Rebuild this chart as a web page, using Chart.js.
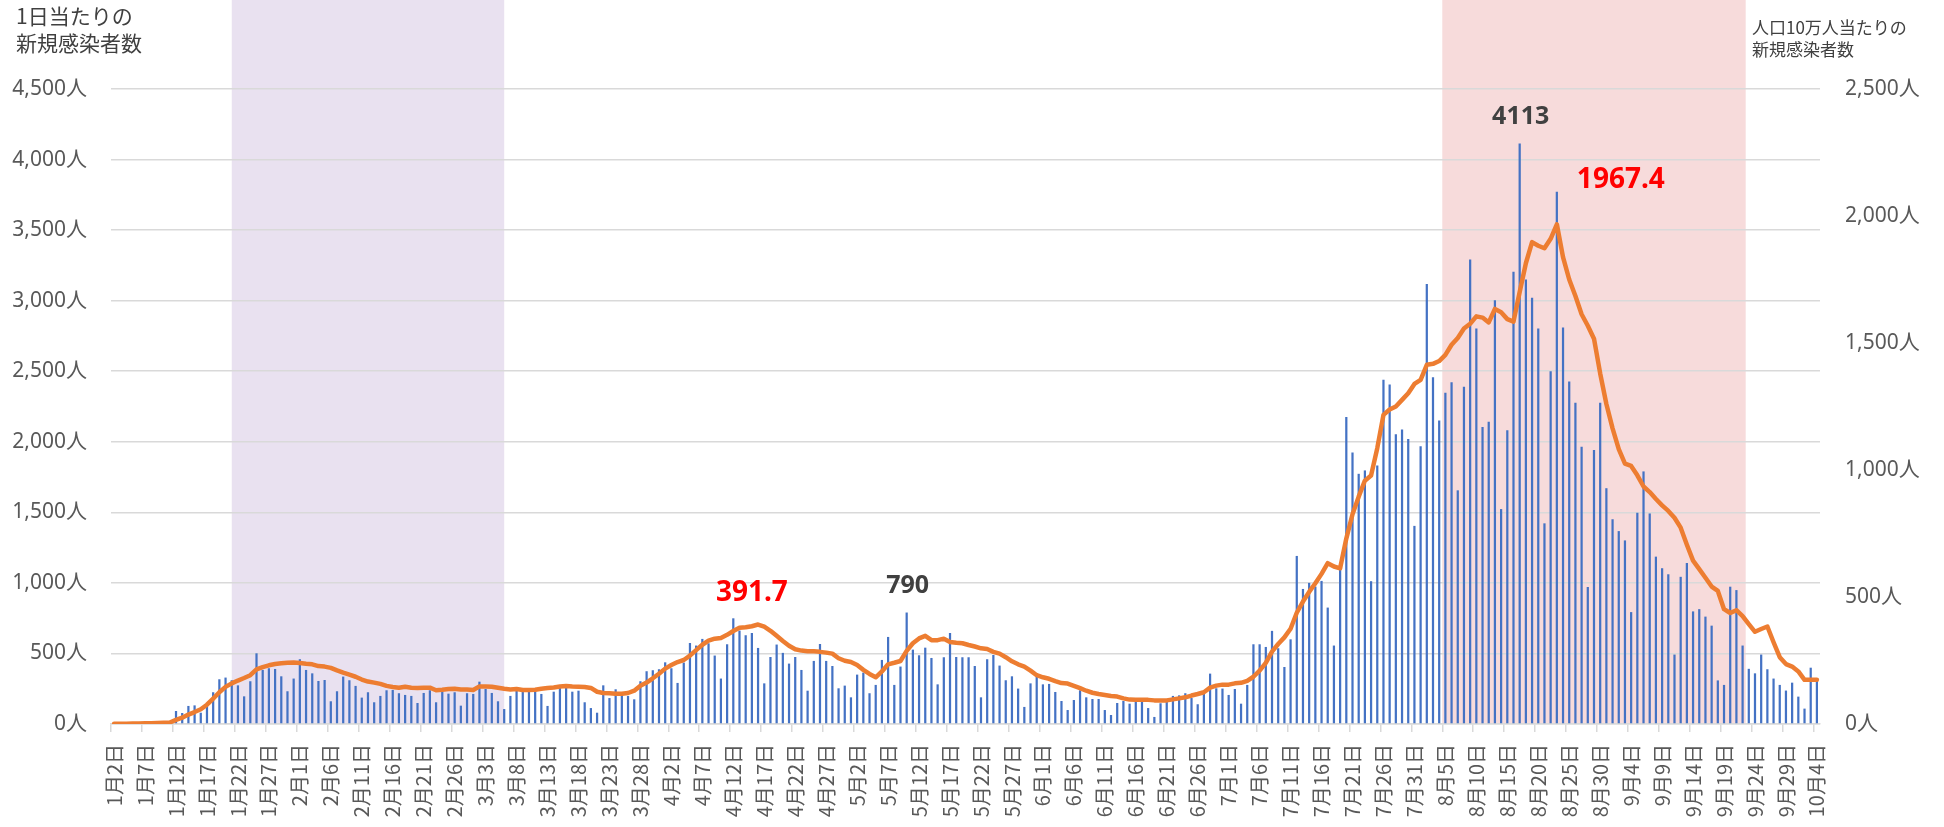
<!DOCTYPE html>
<html lang="ja">
<head>
<meta charset="utf-8">
<script src="https://cdn.jsdelivr.net/npm/chart.js@4/dist/chart.umd.min.js"></script>
<style>
  html, body { margin: 0; padding: 0; background: #ffffff; }
  #wrap { position: relative; width: 1944px; height: 827px; overflow: hidden; }
  #c { position: absolute; left: 0; top: 0; }
  .ttl { position: absolute; font-family: "Noto Sans CJK JP", "Noto Sans", sans-serif; color: #404040; white-space: nowrap; line-height: 1.3; }
  #tl { left: 16px; top: 2px; font-size: 21px; }
  #tr { left: 1752px; top: 16px; font-size: 17px; }
</style>
</head>
<body>
<div id="wrap">
  <canvas id="c" width="1944" height="827"></canvas>
  <div class="ttl" id="tl">1日当たりの<br>新規感染者数</div>
  <div class="ttl" id="tr">人口10万人当たりの<br>新規感染者数</div>
</div>
<script>
// ---- Data ----
const monthDays = [[1, 2, 31], [2, 1, 28], [3, 1, 31], [4, 1, 30], [5, 1, 31], [6, 1, 30], [7, 1, 31], [8, 1, 31], [9, 1, 30], [10, 1, 4]];
const categories = [];
for (const [m, d0, d1] of monthDays) for (let d = d0; d <= d1; d++) categories.push(m + '月' + d + '日');

const dailyCases = [
  2, 3, 2, 6, 8, 10, 12, 14, 10, 20,
  92, 78, 128, 132, 80, 149, 225, 317, 329, 310, 274, 196, 303, 501, 383, 395, 390, 338, 232, 322,
  459, 383, 359, 305, 312, 161, 232, 336, 310, 270, 187, 225, 154, 199, 239, 241, 218,
  206, 199, 149, 220, 239, 154, 229, 215, 225, 130, 218, 213, 300, 248, 220, 161, 106, 199, 236,
  229, 229, 236, 213, 128, 229, 255, 260, 229, 236, 154, 113, 80, 274, 184, 246, 213, 199, 175,
  303, 374, 381, 388, 437, 395, 291, 435,
  574, 556, 603, 572, 485, 322, 565, 749, 662, 629, 645, 539, 288, 475, 563, 504, 428, 475, 383,
  236, 447, 567, 447, 411, 253, 272, 189, 350, 364, 218, 277, 454, 617, 277, 407, 790, 527, 487,
  541, 468, 281, 473, 645, 475, 473, 473, 411,
  189, 459, 489, 414, 310, 338, 251, 121, 288, 338, 281, 284, 227, 163, 99, 170, 239, 189, 177,
  177, 99, 64, 149, 163, 144, 161, 156, 113, 50, 147, 177, 199, 203, 218, 184, 140, 218, 357, 253,
  251, 206, 248, 144, 277,
  565, 565, 546, 660, 537, 404, 600, 1191, 957, 1000, 974, 1014, 825, 556, 1092, 2175, 1924, 1773,
  1797, 1012, 1832, 2440, 2406, 2054, 2087, 2019, 1404, 1969, 3118,
  2457, 2150, 2347, 2422, 1656, 2390, 3292, 2803, 2104, 2142, 3003, 1523, 2081, 3205, 4113, 3150,
  3020, 2803, 1422, 2500, 3772, 2809, 2428, 2277, 1965, 971, 1942, 2277, 1671, 1451, 1367, 1301,
  793, 1497, 1790, 1492, 1186, 1104, 1061, 492, 1043, 1141, 798, 814, 761, 697, 309, 277, 973, 949,
  556, 391, 359, 492, 388, 322, 277, 237, 293, 194, 109, 399, 309
];

const per100k = [
  1, 1, 1, 2, 2, 3, 3, 4, 5, 6,
  16, 25, 37, 47, 58, 76, 100, 125, 146, 160, 171, 181, 192, 215, 224, 231, 236, 239, 241, 242,
  240, 237, 235, 228, 226, 221, 211, 202, 194, 186, 175, 167, 163, 158, 150, 146, 143,
  147, 143, 142, 143, 143, 133, 135, 138, 139, 136, 136, 134, 148, 148, 147, 143, 139, 136, 138,
  134, 134, 135, 139, 142, 144, 148, 150, 148, 147, 146, 142, 127, 122, 121, 119, 119, 122, 131,
  151, 163, 180, 198, 218, 232, 244, 252,
  269, 291, 312, 328, 336, 339, 351, 366, 379, 381, 385, 391.7, 383, 367, 347, 327, 308, 294, 289,
  286, 286, 284, 281, 277, 259, 249, 244, 232, 213, 197, 184, 207, 235, 241, 248, 288, 318, 337,
  347, 330, 330, 336, 323, 320, 318, 311, 305,
  298, 295, 284, 277, 263, 247, 235, 226, 210, 192, 184, 178, 169, 161, 159, 150, 141, 131, 123,
  118, 114, 110, 108, 101, 96, 95, 95, 95, 93, 93, 93, 97, 101, 105, 112, 118, 125, 143, 151,
  155, 155, 160, 162, 170,
  186, 210, 241, 285, 315, 341, 375, 438, 482, 520, 554, 591, 633, 620, 613, 730, 826, 895, 958,
  978, 1086, 1217, 1238, 1250, 1276, 1302, 1339, 1355, 1414,
  1418, 1429, 1453, 1493, 1520, 1557, 1576, 1605, 1600, 1581, 1634, 1621, 1594, 1584, 1701, 1814,
  1897, 1883, 1873, 1910, 1967.4, 1838, 1750, 1685, 1613, 1568, 1517, 1380, 1260, 1164, 1082, 1025,
  1016, 979, 935, 913, 886, 861, 839, 812, 773, 706, 643, 610, 576, 541, 524, 452, 437, 448,
  425, 393, 363, 374, 384, 322, 263, 236, 226, 207, 174, 174, 174
];

const leftTicks = [0, 500, 1000, 1500, 2000, 2500, 3000, 3500, 4000, 4500];
const rightTicks = [0, 500, 1000, 1500, 2000, 2500];

// shaded periods (first day, last day); edge: 'mid' = from/to the day's centre, 'full' = whole days
const periodStart = ['1月21日', '8月5日'];
const periodEnd = ['3月6日', '9月22日'];
const periodEdge = ['mid', 'full'];
const periodColor = ['#E9E1F0', '#F7DBDB'];

// value call-outs
const calloutDay = ['4月15日', '5月10日', '8月17日', '8月23日'];
const calloutText = ['391.7', '790', '4113', '1967.4'];

// ---- Plugins ----
const bandPlugin = {
  id: 'bands',
  beforeDraw(chart) {
    const { ctx, chartArea, scales: { x } } = chart;
    const half = (x.getPixelForValue(1) - x.getPixelForValue(0)) / 2;
    ctx.save();
    periodStart.forEach((s, k) => {
      const h = periodEdge[k] === 'full' ? half : 0;
      const a = x.getPixelForValue(categories.indexOf(s)) - h;
      const b = x.getPixelForValue(categories.indexOf(periodEnd[k])) + h;
      ctx.fillStyle = periodColor[k];
      ctx.fillRect(a, 0, b - a, chartArea.bottom);
    });
    ctx.restore();
  }
};

const calloutStyle = [
  { ds: 1, color: '#FF0000', size: 28, dx: 0, dy: -33 },
  { ds: 0, color: '#404040', size: 25, dx: 1, dy: -27 },
  { ds: 0, color: '#404040', size: 25, dx: 1, dy: -27 },
  { ds: 1, color: '#FF0000', size: 28, dx: 64, dy: -44 }
];
const calloutPlugin = {
  id: 'callouts',
  afterDatasetsDraw(chart) {
    const { ctx } = chart;
    ctx.save();
    ctx.textAlign = 'center';
    ctx.textBaseline = 'middle';
    calloutDay.forEach((day, k) => {
      const st = calloutStyle[k];
      const idx = categories.indexOf(day);
      const el = chart.getDatasetMeta(st.ds).data[idx];
      ctx.font = 'bold ' + st.size + 'px "Noto Sans", "DejaVu Sans", sans-serif';
      ctx.fillStyle = st.color;
      ctx.fillText(calloutText[k], el.x + st.dx, el.y + st.dy);
    });
    ctx.restore();
  }
};

const tickFont = { family: '"Noto Sans", "Noto Sans CJK JP", sans-serif', size: 21 };
const xFont = { family: '"Noto Sans CJK JP", "Noto Sans", sans-serif', size: 20 };

new Chart(document.getElementById('c'), {
  data: {
    labels: categories,
    datasets: [
      {
        type: 'bar', label: '新規感染者数', data: dailyCases, yAxisID: 'y',
        backgroundColor: '#4472C4', barPercentage: 0.36, categoryPercentage: 1, order: 1
      },
      {
        type: 'line', label: '人口10万人当たり', data: per100k, yAxisID: 'y2',
        borderColor: '#ED7D31', borderWidth: 4.5, pointRadius: 0, tension: 0,
        borderJoinStyle: 'round', borderCapStyle: 'round', order: 0
      }
    ]
  },
  options: {
    responsive: false,
    animation: false,
    devicePixelRatio: 1,
    layout: { padding: { top: 89, left: 0, right: 0, bottom: 0 } },
    plugins: { legend: { display: false }, tooltip: { enabled: false } },
    scales: {
      x: {
        type: 'category', offset: true,
        grid: {
          offset: true, drawOnChartArea: false, drawTicks: true, tickLength: 8, lineWidth: 1.5,
          color: (c) => (c.index % 5 === 0 ? '#D9D9D9' : 'rgba(0,0,0,0)')
        },
        border: { display: true, color: '#D9D9D9', width: 1.5 },
        ticks: {
          autoSkip: false, maxRotation: 90, minRotation: 90, padding: 12,
          color: '#595959', font: xFont,
          callback: (v, i) => (i % 5 === 0 ? categories[i] : '')
        },
        afterFit: (s) => { s.height = 103; }
      },
      y: {
        position: 'left', min: 0, max: 4500,
        afterBuildTicks: (s) => { s.ticks = leftTicks.map(v => ({ value: v })); },
        grid: { color: '#D9D9D9', lineWidth: 1.5, drawTicks: false },
        border: { display: false },
        ticks: { padding: 24, color: '#595959', font: tickFont, callback: (v) => v.toLocaleString('en-US') + '人' },
        afterFit: (s) => { s.width = 111; }
      },
      y2: {
        position: 'right', min: 0, max: 2500,
        afterBuildTicks: (s) => { s.ticks = rightTicks.map(v => ({ value: v })); },
        grid: { drawOnChartArea: false, drawTicks: false },
        border: { display: false },
        ticks: { padding: 25, color: '#595959', font: tickFont, callback: (v) => v.toLocaleString('en-US') + '人' },
        afterFit: (s) => { s.width = 124; }
      }
    }
  },
  plugins: [bandPlugin, calloutPlugin]
});
</script>
</body>
</html>
